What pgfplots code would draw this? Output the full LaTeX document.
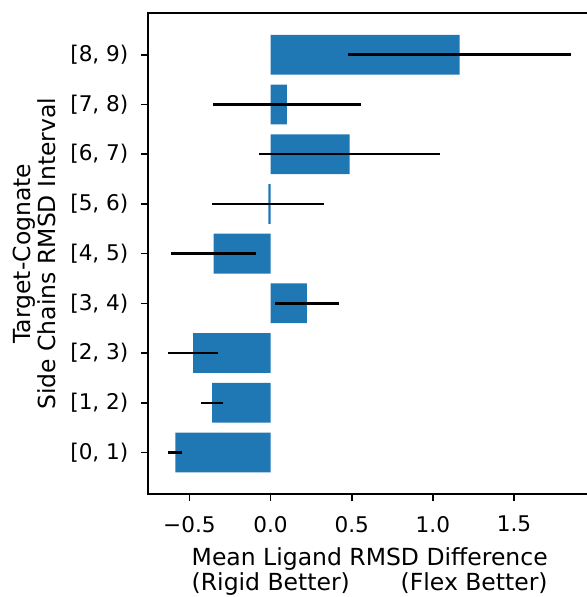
\documentclass[border=0pt]{standalone}
\usepackage{fontspec}
\setmainfont{DejaVu Sans}
\usepackage{calc}
\usepackage{pgfplots}
\pgfplotsset{compat=1.18}
\definecolor{mplblue}{HTML}{1F77B4}

\begin{document}
\fontsize{10.8pt}{12pt}\selectfont
\begin{tikzpicture}
\begin{axis}[
  name=ax, at={(0,0)}, anchor=south west,
  width=221.7pt, height=240.65pt, scale only axis,
  xmin=-0.755, xmax=1.977, ymin=-0.84, ymax=8.84,
  xbar, bar width=0.8,
  xtick={-0.5,0,0.5,1,1.5},
  xticklabels={−0.5,0.0,0.5,1.0,1.5},
  ytick={0,...,8},
  yticklabels={{[0, 1)},{[1, 2)},{[2, 3)},{[3, 4)},{[4, 5)},{[5, 6)},{[6, 7)},{[7, 8)},{[8, 9)}},
  tick align=outside, tickpos=left, major tick length=3.6pt,
  every tick/.style={black, line width=0.82pt},
  axis line style={black, line width=0.82pt},
  xticklabel style={anchor=north, inner sep=0pt},
  xticklabel shift=7.1pt,
  yticklabel style={anchor=east, inner sep=0pt},
  yticklabel shift=6.0pt,
  label style={font={\fontsize{11.75pt}{12.6pt}\selectfont}},
  xlabel={Mean Ligand RMSD Difference\\\makebox[\widthof{Mean Ligand RMSD Difference}]{(Rigid Better)\hfill(Flex Better)}},
  xlabel style={at={(axis description cs:0.5,0)}, anchor=north, inner sep=0pt, yshift=-26.6pt, align=center},
  ylabel={Target-Cognate\\Side Chains RMSD Interval},
  ylabel style={at={(axis description cs:0,0.5)}, anchor=south, inner sep=0pt, yshift=46pt, align=center},
]
\addplot[fill=mplblue, draw=none,
  error bars/.cd, x dir=both, x explicit, error mark=none,
  error bar style={black, line width=1.25pt}]
  coordinates {
    (-0.587,0) +- (0.042,0)
    (-0.360,1) +- (0.069,0)
    (-0.477,2) +- (0.155,0)
    (0.224,3) +- (0.195,0)
    (-0.351,4) +- (0.262,0)
    (-0.014,5) +- (0.344,0)
    (0.487,6) +- (0.557,0)
    (0.100,7) +- (0.457,0)
    (1.165,8) +- (0.688,0)
  };
\end{axis}
\pgfresetboundingbox
\path[use as bounding box] (-74pt,-51.35pt) rectangle (219pt,247.15pt);
\end{tikzpicture}
\end{document}
